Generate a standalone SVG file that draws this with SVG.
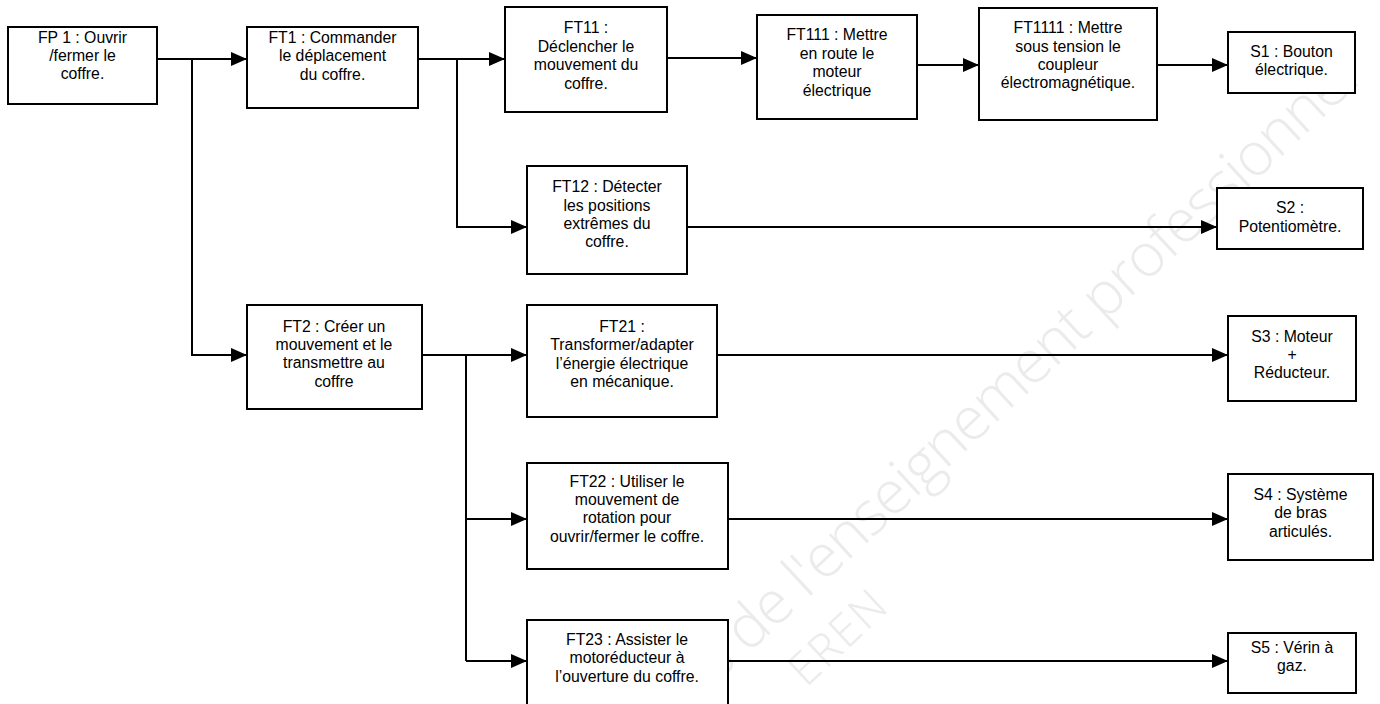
<svg xmlns="http://www.w3.org/2000/svg" width="1380" height="704" viewBox="0 0 1380 704">
<defs>
<marker id="arr" markerUnits="userSpaceOnUse" markerWidth="16" markerHeight="14" refX="16" refY="7" orient="auto">
<path d="M0,0 L16,7 L0,14 Z" fill="#000"/>
</marker>
<style>
.box{fill:#fff;stroke:#000;stroke-width:2}
.t{font-family:"Liberation Sans",Arial,sans-serif;font-size:15.8px;fill:#000;text-anchor:middle}
.c{fill:none;stroke:#000;stroke-width:2}
.wm{font-family:"Open Sans","Liberation Sans",sans-serif;font-weight:300;fill:#ebebeb}
</style>
</defs>
<rect x="0" y="0" width="1380" height="704" fill="#fff"/>
<g id="watermark">
<text class="wm" font-size="60" x="718" y="682" textLength="880" transform="rotate(-43 718 682)">s de l'enseignement professionnel</text>
<text class="wm" font-size="45" x="806" y="688" textLength="115" transform="rotate(-43 806 688)">EREN</text>
</g>
<g id="connectors">
<path class="c" d="M157,59 H247" marker-end="url(#arr)"/>
<path class="c" d="M192,59 V355 H247" marker-end="url(#arr)"/>
<path class="c" d="M418,59 H505" marker-end="url(#arr)"/>
<path class="c" d="M457,59 V227 H527" marker-end="url(#arr)"/>
<path class="c" d="M667,58 H757" marker-end="url(#arr)"/>
<path class="c" d="M917,65 H979" marker-end="url(#arr)"/>
<path class="c" d="M1157,65 H1228" marker-end="url(#arr)"/>
<path class="c" d="M687,227 H1217" marker-end="url(#arr)"/>
<path class="c" d="M422,355 H527" marker-end="url(#arr)"/>
<path class="c" d="M466,355 V661"/>
<path class="c" d="M466,519 H527" marker-end="url(#arr)"/>
<path class="c" d="M466,661 H527" marker-end="url(#arr)"/>
<path class="c" d="M717,355 H1228" marker-end="url(#arr)"/>
<path class="c" d="M728,519 H1228" marker-end="url(#arr)"/>
<path class="c" d="M728,661 H1228" marker-end="url(#arr)"/>
</g>
<g id="FP1">
<rect class="box" x="8" y="27" width="149" height="77"/>
<text class="t" x="82.5" y="42.5">FP 1 : Ouvrir</text>
<text class="t" x="82.5" y="60.8">/fermer le</text>
<text class="t" x="82.5" y="79.1">coffre.</text>
</g>
<g id="FT1">
<rect class="box" x="247" y="27" width="171" height="81"/>
<text class="t" x="332.5" y="42.5">FT1 : Commander</text>
<text class="t" x="332.5" y="60.8">le déplacement</text>
<text class="t" x="332.5" y="79.6">du coffre.</text>
</g>
<g id="FT11">
<rect class="box" x="505" y="7" width="162" height="105"/>
<text class="t" x="586" y="33">FT11 :</text>
<text class="t" x="586" y="51.5">Déclencher le</text>
<text class="t" x="586" y="70">mouvement du</text>
<text class="t" x="586" y="88.5">coffre.</text>
</g>
<g id="FT111">
<rect class="box" x="757" y="15" width="160" height="104"/>
<text class="t" x="837" y="40">FT111 : Mettre</text>
<text class="t" x="837" y="58.5">en route le</text>
<text class="t" x="837" y="77">moteur</text>
<text class="t" x="837" y="95.5">électrique</text>
</g>
<g id="FT1111">
<rect class="box" x="979" y="8" width="178" height="112"/>
<text class="t" x="1068" y="33.4">FT1111 : Mettre</text>
<text class="t" x="1068" y="51.7">sous tension le</text>
<text class="t" x="1068" y="70">coupleur</text>
<text class="t" x="1068" y="88.3">électromagnétique.</text>
</g>
<g id="S1">
<rect class="box" x="1228" y="32" width="127" height="61"/>
<text class="t" x="1291.5" y="57.3">S1 : Bouton</text>
<text class="t" x="1291.5" y="75.3">électrique.</text>
</g>
<g id="FT12">
<rect class="box" x="527" y="166" width="160" height="108"/>
<text class="t" x="607" y="192.3">FT12 : Détecter</text>
<text class="t" x="607" y="210.6">les positions</text>
<text class="t" x="607" y="228.9">extrêmes du</text>
<text class="t" x="607" y="247.2">coffre.</text>
</g>
<g id="S2">
<rect class="box" x="1217" y="188" width="146" height="61"/>
<text class="t" x="1290" y="213">S2 :</text>
<text class="t" x="1290" y="231.5">Potentiomètre.</text>
</g>
<g id="FT2">
<rect class="box" x="247" y="305" width="175" height="104"/>
<text class="t" x="334" y="331.7">FT2 : Créer un</text>
<text class="t" x="334" y="350">mouvement et le</text>
<text class="t" x="334" y="368.3">transmettre au</text>
<text class="t" x="334" y="386.6">coffre</text>
</g>
<g id="FT21">
<rect class="box" x="527" y="305" width="190" height="112"/>
<text class="t" x="622" y="332">FT21 :</text>
<text class="t" x="622" y="350.3">Transformer/adapter</text>
<text class="t" x="622" y="368.6">l’énergie électrique</text>
<text class="t" x="622" y="386.9">en mécanique.</text>
</g>
<g id="S3">
<rect class="box" x="1228" y="316" width="128" height="85"/>
<text class="t" x="1292" y="341.7">S3 : Moteur</text>
<text class="t" x="1292" y="360">+</text>
<text class="t" x="1292" y="378.3">Réducteur.</text>
</g>
<g id="FT22">
<rect class="box" x="527" y="463" width="201" height="106"/>
<text class="t" x="627" y="486.7">FT22 : Utiliser le</text>
<text class="t" x="627" y="505">mouvement de</text>
<text class="t" x="627" y="523.3">rotation pour</text>
<text class="t" x="627" y="541.6">ouvrir/fermer le coffre.</text>
</g>
<g id="S4">
<rect class="box" x="1228" y="474" width="145" height="86"/>
<text class="t" x="1300.5" y="500">S4 : Système</text>
<text class="t" x="1300.5" y="518.3">de bras</text>
<text class="t" x="1300.5" y="536.6">articulés.</text>
</g>
<g id="FT23">
<rect class="box" x="527" y="620" width="201" height="95"/>
<text class="t" x="627" y="645">FT23 : Assister le</text>
<text class="t" x="627" y="663.3">motoréducteur à</text>
<text class="t" x="627" y="681.6">l’ouverture du coffre.</text>
</g>
<g id="S5">
<rect class="box" x="1228" y="633" width="128" height="60"/>
<text class="t" x="1292" y="653.3">S5 : Vérin à</text>
<text class="t" x="1292" y="671.3">gaz.</text>
</g>
</svg>
